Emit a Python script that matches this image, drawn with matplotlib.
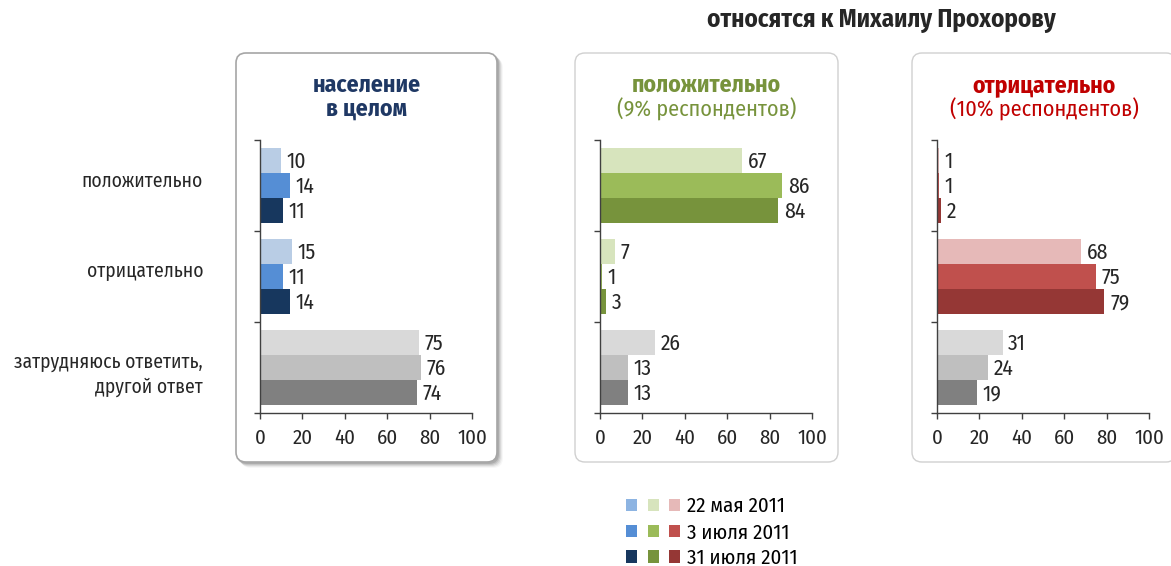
import matplotlib.pyplot as plt
from matplotlib.patches import FancyBboxPatch, Patch
from matplotlib.legend_handler import HandlerTuple

plt.rcParams['font.family'] = ['Fira Sans Condensed', 'PT Sans Narrow', 'Roboto Condensed',
                               'DejaVu Sans']

# ==============================================================================
# Datos
# ==============================================================================
categorias = ["положительно", "отрицательно", "затрудняюсь ответить,\nдругой ответ"]
fechas = ["22 мая 2011", "3 июля 2011", "31 июля 2011"]

# население в целом
pob_pos = [10, 14, 11]
pob_neg = [15, 11, 14]
pob_dk = [75, 76, 74]

# положительно (9% респондентов)
pos_pos = [67, 86, 84]
pos_neg = [7, 1, 3]
pos_dk = [26, 13, 13]

# отрицательно (10% респондентов)
neg_pos = [1, 1, 2]
neg_neg = [68, 75, 79]
neg_dk = [31, 24, 19]

ticks_x = [0, 20, 40, 60, 80, 100]

azules = ["#b9cde5", "#558ed5", "#17375e"]
verdes = ["#d7e4bd", "#9bbb59", "#77933c"]
rojos = ["#e6b9b8", "#c0504d", "#953735"]
grises = ["#d9d9d9", "#bfbfbf", "#808080"]

paneles = [
    {"datos": [pob_pos, pob_neg, pob_dk], "colores": [azules, azules, grises],
     "t1": "население", "t2": "в целом", "c": "#1f3864", "bold2": True},
    {"datos": [pos_pos, pos_neg, pos_dk], "colores": [verdes, verdes, grises],
     "t1": "положительно", "t2": "(9% респондентов)", "c": "#77933c", "bold2": False},
    {"datos": [neg_pos, neg_neg, neg_dk], "colores": [rojos, rojos, grises],
     "t1": "отрицательно", "t2": "(10% респондентов)", "c": "#c00000", "bold2": False},
]

W, H = 1171, 566
fig = plt.figure(figsize=(W / 100, H / 100), dpi=100)
fig.patch.set_facecolor("white")

# cajas (px): left, right, top, bottom
cajas = [(236, 497, 53, 462), (575, 838, 53, 462), (912, 1176, 53, 462)]
ejes_x = [260, 600, 937]
ancho_eje = 212
y_top, y_bot = 140, 413


def caja(l, r, t, b, borde, lw, z=0, fc="white"):
    p = FancyBboxPatch((l / W, 1 - b / H), (r - l) / W, (b - t) / H,
                       boxstyle="round,pad=0,rounding_size=0.0085",
                       mutation_aspect=W / H, transform=fig.transFigure,
                       facecolor=fc, edgecolor=borde, linewidth=lw, zorder=z)
    fig.patches.append(p)


# sombra del primer panel
l, r, t, b = cajas[0]
for k, a in enumerate([0.12, 0.09, 0.07, 0.05, 0.03]):
    d = k + 1
    caja(l + d, r + d + 1, t + d, b + d + 1, "none", 0, z=-2, fc=(0, 0, 0, a))
caja(l, r, t, b, "#a6a6a6", 1.2, z=-1)
for (l, r, t, b) in cajas[1:]:
    caja(l, r, t, b, "#d0d0d0", 1.0, z=-1)

h = 25 / 91
off = (1 - 3 * h) / 2

for i, p in enumerate(paneles):
    ax = fig.add_axes([ejes_x[i] / W, 1 - y_bot / H, ancho_eje / W, (y_bot - y_top) / H])
    ax.patch.set_alpha(0)
    for g, serie in enumerate(p["datos"]):
        for s, v in enumerate(serie):
            y = g + off + h * (s + 0.5)
            ax.barh(y, v, height=h, color=p["colores"][g][s], linewidth=0)
            ax.annotate(str(v), (v, y), xytext=(4, -1), textcoords="offset points",
                        va="center", ha="left", fontsize=15.5, color="#262626")
    ax.set_xlim(0, 100)
    ax.set_ylim(3, 0)
    ax.set_xticks(ticks_x)
    ax.set_yticks([0, 1, 2, 3])
    ax.set_yticklabels([])
    ax.tick_params(axis="x", length=4, width=1, color="#404040", labelsize=15,
                   labelcolor="#262626", pad=7)
    ax.tick_params(axis="y", length=4, width=1, color="#404040")
    for sp in ["top", "right"]:
        ax.spines[sp].set_visible(False)
    for sp in ["left", "bottom"]:
        ax.spines[sp].set_color("#404040")
        ax.spines[sp].set_linewidth(1)

    cx = (cajas[i][0] + cajas[i][1]) / 2 / W
    fig.text(cx, 1 - 85 / H, p["t1"], ha="center", va="center", fontsize=17,
             fontweight="bold", color=p["c"])
    fig.text(cx, 1 - 109 / H, p["t2"], ha="center", va="center",
             fontsize=17 if p["bold2"] else 16,
             fontweight="bold" if p["bold2"] else "normal", color=p["c"])

# etiquetas de categoría
for txt, yy in zip(categorias, [181, 271, 375]):
    fig.text(203 / W, 1 - yy / H, txt, ha="right", va="center", fontsize=14,
             color="#262626", linespacing=1.35)

fig.text(881 / W, 1 - 21 / H, "относятся к Михаилу Прохорову", ha="center",
         va="center", fontsize=18, fontweight="bold", color="#262626")

# leyenda
leg_col = [["#8db4e2", "#d7e4bd", "#e6b9b8"],
           ["#558ed5", "#9bbb59", "#c0504d"],
           ["#17375e", "#77933c", "#953735"]]
handles = [tuple(Patch(facecolor=c, edgecolor="none") for c in fila) for fila in leg_col]
fig.legend(handles, fechas, loc="upper left", bbox_to_anchor=(626 / W, 1 - 497 / H),
           frameon=False, fontsize=15, handlelength=2.6, handleheight=0.55,
           labelspacing=0.3, handletextpad=0.35, borderpad=0, borderaxespad=0,
           handler_map={tuple: HandlerTuple(ndivide=None, pad=0.5)})

fig.savefig("out.png", dpi=100)
